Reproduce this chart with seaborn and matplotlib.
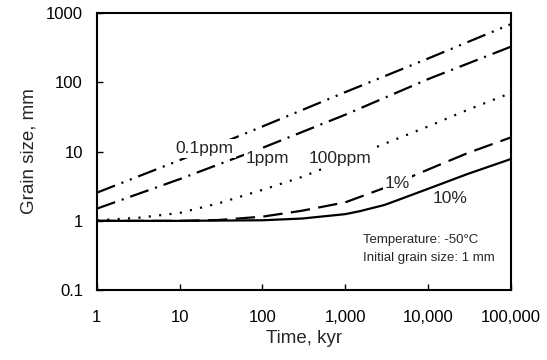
import numpy as np
import pandas as pd
import seaborn as sns
import matplotlib.pyplot as plt

# values (time in kyr, grain size in mm)
time_01ppm = [1, 10, 100, 1000, 10000, 100000]
size_01ppm = [2.55, 7.5, 23, 72, 220, 690]

time_1ppm = [1, 10, 100, 1000, 10000, 100000]
size_1ppm = [1.5, 4.0, 11.3, 34, 111, 326]

time_100ppm = [1, 3, 10, 30, 100, 300, 1000, 3000, 10000, 30000, 100000]
size_100ppm = [1.02, 1.1, 1.3, 1.8, 2.8, 4.3, 7.6, 13, 23, 40, 70]

time_1pct = [1, 10, 30, 100, 300, 1000, 3000, 10000, 30000, 100000]
size_1pct = [1.0, 1.0, 1.03, 1.15, 1.4, 1.85, 3.0, 5.5, 9.5, 16]

time_10pct = [1, 10, 100, 300, 1000, 1500, 3000, 10000, 30000, 100000]
size_10pct = [1.0, 1.0, 1.02, 1.08, 1.25, 1.38, 1.7, 2.9, 4.75, 7.8]

series_names = ["0.1ppm", "1ppm", "100ppm", "1%", "10%"]
label_x = [20, 116, 860, 4300, 18300]
label_y = [11.2, 8.05, 8.05, 3.5, 2.13]

xticks = [1, 10, 100, 1000, 10000, 100000]
xtick_labels = ["1", "10", "100", "1,000", "10,000", "100,000"]
yticks = [0.1, 1, 10, 100, 1000]
ytick_labels = ["0.1", "1", "10", "100", "1000"]

frames = []
for name, t, s in zip(series_names,
                      [time_01ppm, time_1ppm, time_100ppm, time_1pct, time_10pct],
                      [size_01ppm, size_1ppm, size_100ppm, size_1pct, size_10pct]):
    frames.append(pd.DataFrame({"time": t, "size": s, "series": name}))
df = pd.concat(frames, ignore_index=True)

sns.set_theme(style="ticks")
plt.rcParams["font.family"] = ["Liberation Sans", "DejaVu Sans"]
plt.rcParams["lines.scale_dashes"] = False

fig = plt.figure(figsize=(5.47, 3.6), dpi=100)
ax = fig.add_axes([0.177, 0.194, 0.757, 0.770])

dash_styles = {
    "0.1ppm": (14, 5, 1.5, 5, 1.5, 5),
    "1ppm": (14, 5, 1.5, 5),
    "100ppm": (1.5, 6),
    "1%": (14, 6),
    "10%": "",
}
sns.lineplot(data=df, x="time", y="size", hue="series", style="series",
             palette=["black"] * 5, dashes=dash_styles, estimator=None,
             linewidth=1.6, legend=False, ax=ax)

ax.set_xscale("log")
ax.set_yscale("log")
ax.set_xlim(1, 100000)
ax.set_ylim(0.1, 1000)
ax.set_xticks(xticks, xtick_labels)
ax.set_yticks(yticks, ytick_labels)
ax.minorticks_off()
ax.tick_params(direction="in", length=4, width=1, labelsize=12, colors="black")
ax.tick_params(axis="x", pad=14)
ax.tick_params(axis="y", pad=10)

for sp in ax.spines.values():
    sp.set_visible(True)
    sp.set_linewidth(1.5)
    sp.set_color("black")

ax.set_xlabel("Time, kyr", fontsize=13.5, labelpad=4)
ax.set_ylabel("Grain size, mm", fontsize=13.5, labelpad=6)

for name, lx, ly in zip(series_names, label_x, label_y):
    ax.text(lx, ly, name, fontsize=12.5, ha="center", va="center",
            bbox=dict(facecolor="white", edgecolor="none", pad=1.5))

ax.text(0.643, 0.18, "Temperature: -50°C", transform=ax.transAxes,
        fontsize=9.5, va="center")
ax.text(0.643, 0.116, "Initial grain size: 1 mm", transform=ax.transAxes,
        fontsize=9.5, va="center")

fig.savefig("out.png", dpi=100)
